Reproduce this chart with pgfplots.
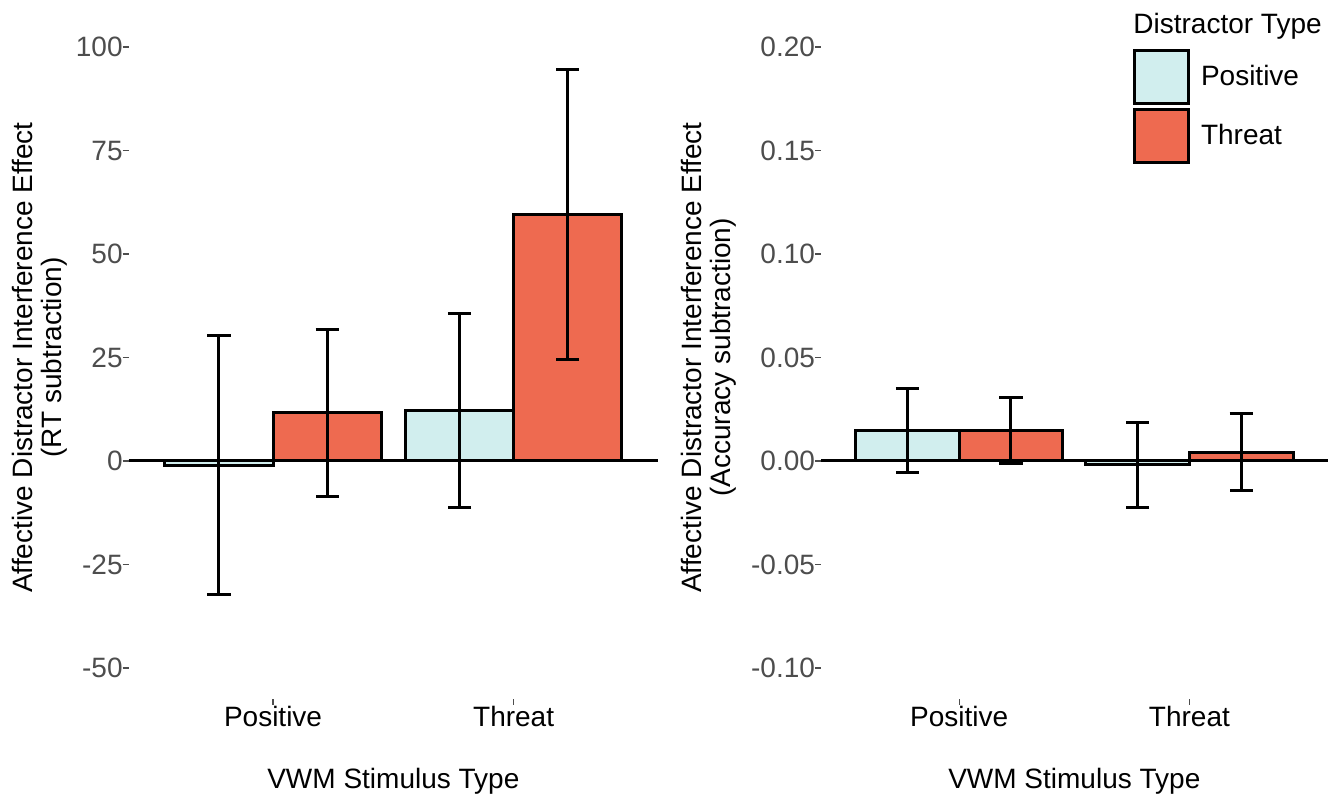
\documentclass[border=0pt]{standalone}
\usepackage{fontspec}
\setmainfont{Liberation Sans}
\usepackage{pgfplots}
\pgfplotsset{compat=1.18}

\definecolor{poscol}{HTML}{D1EEEE}
\definecolor{thrcol}{HTML}{EE6A50}
\definecolor{tickgray}{HTML}{4D4D4D}

\pgfplotsset{
  panel/.style={
    scale only axis, height=341.5pt,
    xmin=0.4, xmax=2.6, enlargelimits=false,
    axis line style={draw=none},
    tick pos=left, tick align=outside,
    major tick length=3pt,
    tick style={color=tickgray, line width=0.6pt},
    xtick={1,2}, xticklabels={Positive,Threat},
    ticklabel style={font=\fontsize{14}{16}\selectfont},
    yticklabel style={color=tickgray, xshift=3.5pt},
    xticklabel style={yshift=3pt},
    xlabel={VWM Stimulus Type},
    label style={font=\fontsize{14}{14.5}\selectfont},
    xlabel style={at={(axis description cs:0.5,0)}, anchor=center, yshift=-41pt},
    clip=false,
  },
  bars/.style={ybar, bar width=0.45, bar shift=0pt, draw=black, line width=1.5pt,
    error bars/y dir=both, error bars/y explicit,
    error bars/error bar style={line width=1.5pt, black},
    error bars/error mark options={rotate=90, line width=1.5pt, mark size=5.8pt, black}},
}

\begin{document}
\begin{tikzpicture}
\path (0,0) rectangle (669.5pt,399.5pt);

% left panel: RT
\begin{axis}[panel, at={(64.35pt,50pt)}, anchor=south west, width=264.65pt,
  ymin=-57.5, ymax=107.5,
  ytick={-50,-25,0,25,50,75,100}, yticklabels={-50,-25,0,25,50,75,100},
  ylabel={Affective Distractor Interference Effect\\(RT subtraction)},
  ylabel style={at={(axis description cs:-0.1676,0.5)}, anchor=center, align=center}]
\addplot[fill=poscol, bars] coordinates {(0.775,-1.0) +- (0,31.2) (1.775,12.2) +- (0,23.5)};
\addplot[fill=thrcol, bars] coordinates {(1.225,11.6) +- (0,20.2) (2.225,59.5) +- (0,35.0)};
\addplot[black, line width=1.5pt, forget plot] coordinates {(0.4,0) (2.6,0)};
\end{axis}

% right panel: accuracy
\begin{axis}[panel, at={(410.5pt,50pt)}, anchor=south west, width=253.3pt,
  ymin=-0.115, ymax=0.215,
  ytick={-0.1,-0.05,0,0.05,0.1,0.15,0.2},
  yticklabels={-0.10,-0.05,0.00,0.05,0.10,0.15,0.20},
  ylabel={Affective Distractor Interference Effect\\(Accuracy subtraction)},
  ylabel style={at={(axis description cs:-0.221,0.5)}, anchor=center, align=center},
  legend style={at={(axis description cs:0.6159,0.9517)}, anchor=north west,
    draw=none, fill=none, inner sep=0pt, outer sep=0pt, row sep=1.5pt,
    nodes={inner sep=0pt, font=\fontsize{14}{16}\selectfont},
    /tikz/every odd column/.append style={column sep=5.5pt}},
  legend cell align=left,
  legend image code/.code={\draw[#1] (0pt,-13.25pt) rectangle (27pt,13.25pt);}]
\addplot[fill=poscol, bars] coordinates {(0.775,0.0147) +- (0,0.0205) (1.775,-0.0018) +- (0,0.0205)};
\addlegendentry{Positive}
\addplot[fill=thrcol, bars] coordinates {(1.225,0.0147) +- (0,0.0158) (2.225,0.0043) +- (0,0.0184)};
\addlegendentry{Threat}
\addplot[black, line width=1.5pt, forget plot] coordinates {(0.4,0) (2.6,0)};
\node[anchor=base west, inner sep=0pt, font=\fontsize{14}{16}\selectfont] at (axis description cs:0.6159,0.975) {Distractor Type};
\end{axis}
\end{tikzpicture}
\end{document}
